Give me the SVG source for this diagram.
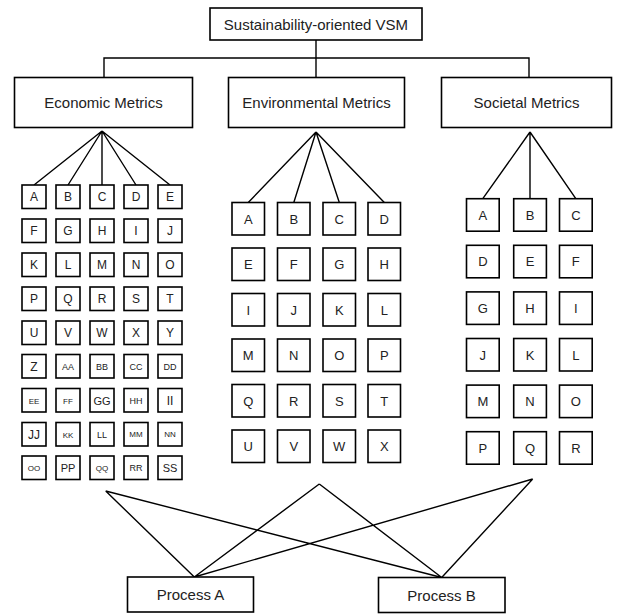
<svg xmlns="http://www.w3.org/2000/svg" width="621" height="616" viewBox="0 0 621 616">
<style>
.bx{fill:#fff;stroke:#000;stroke-width:1.6}
.ln{fill:none;stroke:#000;stroke-width:1.4}
text{font-family:"Liberation Sans",Arial,sans-serif;fill:#222;text-anchor:middle}
.t15{font-size:15px}
.e{font-size:12px}
.e9{font-size:9px}
.e8{font-size:8px}
.e11{font-size:11px}
.g{font-size:13px}
</style>
<rect width="621" height="616" fill="#fff"/>
<g id="connectors">
<path class="ln" d="M316,40V58M104,78V58H529V78M316,58V78"/>
<path class="ln" d="M102,131L34,185M102,131L68,185M102,131L102,185M102,131L136,185M102,131L170,185"/>
<path class="ln" d="M316,132L248.3,202.5M316,132L293.8,202.5M316,132L339.3,202.5M316,132L384.3,202.5"/>
<path class="ln" d="M530,132L482.8,198.7M530,132L530,198.7M530,132L575.8,198.7"/>
<path class="ln" d="M105.7,491L194.3,577M105.7,491L441.7,577.5M319.3,484L194.3,577M319.3,484L441.7,577.5M532.7,479L194.3,577M532.7,479L441.7,577.5"/>
</g>
<g id="root"><rect class="bx" x="210" y="8" width="212" height="32"/><text class="t15" x="316" y="29.5">Sustainability-oriented VSM</text></g>
<g id="economic"><rect class="bx" x="14.5" y="77.5" width="178" height="50"/><text class="t15" x="103.5" y="108">Economic Metrics</text></g>
<g id="environmental"><rect class="bx" x="228.5" y="77.5" width="176" height="50"/><text class="t15" x="316.5" y="108">Environmental Metrics</text></g>
<g id="societal"><rect class="bx" x="441.5" y="77.5" width="170" height="50"/><text class="t15" x="526.5" y="108">Societal Metrics</text></g>
<g id="processA"><rect class="bx" x="127.5" y="577" width="126" height="35"/><text class="t15" x="190.5" y="600">Process A</text></g>
<g id="processB"><rect class="bx" x="378.5" y="577.5" width="126.5" height="35"/><text class="t15" x="441.5" y="600.5">Process B</text></g>
<g id="econ-grid">
<g id="e-A" transform="translate(22,185)"><rect class="bx" width="24" height="23.5"/><text class="e" x="12" y="16">A</text></g>
<g id="e-B" transform="translate(56,185)"><rect class="bx" width="24" height="23.5"/><text class="e" x="12" y="16">B</text></g>
<g id="e-C" transform="translate(90,185)"><rect class="bx" width="24" height="23.5"/><text class="e" x="12" y="16">C</text></g>
<g id="e-D" transform="translate(124,185)"><rect class="bx" width="24" height="23.5"/><text class="e" x="12" y="16">D</text></g>
<g id="e-E" transform="translate(158,185)"><rect class="bx" width="24" height="23.5"/><text class="e" x="12" y="16">E</text></g>
<g id="e-F" transform="translate(22,219)"><rect class="bx" width="24" height="23.5"/><text class="e" x="12" y="16">F</text></g>
<g id="e-G" transform="translate(56,219)"><rect class="bx" width="24" height="23.5"/><text class="e" x="12" y="16">G</text></g>
<g id="e-H" transform="translate(90,219)"><rect class="bx" width="24" height="23.5"/><text class="e" x="12" y="16">H</text></g>
<g id="e-I" transform="translate(124,219)"><rect class="bx" width="24" height="23.5"/><text class="e" x="12" y="16">I</text></g>
<g id="e-J" transform="translate(158,219)"><rect class="bx" width="24" height="23.5"/><text class="e" x="12" y="16">J</text></g>
<g id="e-K" transform="translate(22,253)"><rect class="bx" width="24" height="23.5"/><text class="e" x="12" y="16">K</text></g>
<g id="e-L" transform="translate(56,253)"><rect class="bx" width="24" height="23.5"/><text class="e" x="12" y="16">L</text></g>
<g id="e-M" transform="translate(90,253)"><rect class="bx" width="24" height="23.5"/><text class="e" x="12" y="16">M</text></g>
<g id="e-N" transform="translate(124,253)"><rect class="bx" width="24" height="23.5"/><text class="e" x="12" y="16">N</text></g>
<g id="e-O" transform="translate(158,253)"><rect class="bx" width="24" height="23.5"/><text class="e" x="12" y="16">O</text></g>
<g id="e-P" transform="translate(22,287)"><rect class="bx" width="24" height="23.5"/><text class="e" x="12" y="16">P</text></g>
<g id="e-Q" transform="translate(56,287)"><rect class="bx" width="24" height="23.5"/><text class="e" x="12" y="16">Q</text></g>
<g id="e-R" transform="translate(90,287)"><rect class="bx" width="24" height="23.5"/><text class="e" x="12" y="16">R</text></g>
<g id="e-S" transform="translate(124,287)"><rect class="bx" width="24" height="23.5"/><text class="e" x="12" y="16">S</text></g>
<g id="e-T" transform="translate(158,287)"><rect class="bx" width="24" height="23.5"/><text class="e" x="12" y="16">T</text></g>
<g id="e-U" transform="translate(22,321)"><rect class="bx" width="24" height="23.5"/><text class="e" x="12" y="16">U</text></g>
<g id="e-V" transform="translate(56,321)"><rect class="bx" width="24" height="23.5"/><text class="e" x="12" y="16">V</text></g>
<g id="e-W" transform="translate(90,321)"><rect class="bx" width="24" height="23.5"/><text class="e" x="12" y="16">W</text></g>
<g id="e-X" transform="translate(124,321)"><rect class="bx" width="24" height="23.5"/><text class="e" x="12" y="16">X</text></g>
<g id="e-Y" transform="translate(158,321)"><rect class="bx" width="24" height="23.5"/><text class="e" x="12" y="16">Y</text></g>
<g id="e-Z" transform="translate(22,354.5)"><rect class="bx" width="24" height="23.5"/><text class="e" x="12" y="16">Z</text></g>
<g id="e-AA" transform="translate(56,354.5)"><rect class="bx" width="24" height="23.5"/><text class="e9" x="12" y="15">AA</text></g>
<g id="e-BB" transform="translate(90,354.5)"><rect class="bx" width="24" height="23.5"/><text class="e9" x="12" y="15">BB</text></g>
<g id="e-CC" transform="translate(124,354.5)"><rect class="bx" width="24" height="23.5"/><text class="e9" x="12" y="15">CC</text></g>
<g id="e-DD" transform="translate(158,354.5)"><rect class="bx" width="24" height="23.5"/><text class="e9" x="12" y="15">DD</text></g>
<g id="e-EE" transform="translate(22,388.5)"><rect class="bx" width="24" height="23.5"/><text class="e8" x="12" y="15">EE</text></g>
<g id="e-FF" transform="translate(56,388.5)"><rect class="bx" width="24" height="23.5"/><text class="e8" x="12" y="15">FF</text></g>
<g id="e-GG" transform="translate(90,388.5)"><rect class="bx" width="24" height="23.5"/><text class="e11" x="12" y="16">GG</text></g>
<g id="e-HH" transform="translate(124,388.5)"><rect class="bx" width="24" height="23.5"/><text class="e9" x="12" y="15">HH</text></g>
<g id="e-II" transform="translate(158,388.5)"><rect class="bx" width="24" height="23.5"/><text class="e" x="12" y="16">II</text></g>
<g id="e-JJ" transform="translate(22,422.5)"><rect class="bx" width="24" height="23.5"/><text class="e" x="12" y="16">JJ</text></g>
<g id="e-KK" transform="translate(56,422.5)"><rect class="bx" width="24" height="23.5"/><text class="e8" x="12" y="15">KK</text></g>
<g id="e-LL" transform="translate(90,422.5)"><rect class="bx" width="24" height="23.5"/><text class="e9" x="12" y="15.5">LL</text></g>
<g id="e-MM" transform="translate(124,422.5)"><rect class="bx" width="24" height="23.5"/><text class="e8" x="12" y="14.5">MM</text></g>
<g id="e-NN" transform="translate(158,422.5)"><rect class="bx" width="24" height="23.5"/><text class="e8" x="12" y="14.5">NN</text></g>
<g id="e-OO" transform="translate(22,456)"><rect class="bx" width="24" height="23.5"/><text class="e8" x="12" y="14.5">OO</text></g>
<g id="e-PP" transform="translate(56,456)"><rect class="bx" width="24" height="23.5"/><text class="e11" x="12" y="15.5">PP</text></g>
<g id="e-QQ" transform="translate(90,456)"><rect class="bx" width="24" height="23.5"/><text class="e8" x="12" y="14.5">QQ</text></g>
<g id="e-RR" transform="translate(124,456)"><rect class="bx" width="24" height="23.5"/><text class="e9" x="12" y="15">RR</text></g>
<g id="e-SS" transform="translate(158,456)"><rect class="bx" width="24" height="23.5"/><text class="e11" x="12" y="15.5">SS</text></g>
</g>
<g id="env-grid">
<g id="v-A" transform="translate(232,202.5)"><rect class="bx" width="32.5" height="32.5"/><text class="g" x="16.25" y="21">A</text></g>
<g id="v-B" transform="translate(277.5,202.5)"><rect class="bx" width="32.5" height="32.5"/><text class="g" x="16.25" y="21">B</text></g>
<g id="v-C" transform="translate(323,202.5)"><rect class="bx" width="32.5" height="32.5"/><text class="g" x="16.25" y="21">C</text></g>
<g id="v-D" transform="translate(368,202.5)"><rect class="bx" width="32.5" height="32.5"/><text class="g" x="16.25" y="21">D</text></g>
<g id="v-E" transform="translate(232,248)"><rect class="bx" width="32.5" height="32.5"/><text class="g" x="16.25" y="21">E</text></g>
<g id="v-F" transform="translate(277.5,248)"><rect class="bx" width="32.5" height="32.5"/><text class="g" x="16.25" y="21">F</text></g>
<g id="v-G" transform="translate(323,248)"><rect class="bx" width="32.5" height="32.5"/><text class="g" x="16.25" y="21">G</text></g>
<g id="v-H" transform="translate(368,248)"><rect class="bx" width="32.5" height="32.5"/><text class="g" x="16.25" y="21">H</text></g>
<g id="v-I" transform="translate(232,293.5)"><rect class="bx" width="32.5" height="32.5"/><text class="g" x="16.25" y="21">I</text></g>
<g id="v-J" transform="translate(277.5,293.5)"><rect class="bx" width="32.5" height="32.5"/><text class="g" x="16.25" y="21">J</text></g>
<g id="v-K" transform="translate(323,293.5)"><rect class="bx" width="32.5" height="32.5"/><text class="g" x="16.25" y="21">K</text></g>
<g id="v-L" transform="translate(368,293.5)"><rect class="bx" width="32.5" height="32.5"/><text class="g" x="16.25" y="21">L</text></g>
<g id="v-M" transform="translate(232,339)"><rect class="bx" width="32.5" height="32.5"/><text class="g" x="16.25" y="21">M</text></g>
<g id="v-N" transform="translate(277.5,339)"><rect class="bx" width="32.5" height="32.5"/><text class="g" x="16.25" y="21">N</text></g>
<g id="v-O" transform="translate(323,339)"><rect class="bx" width="32.5" height="32.5"/><text class="g" x="16.25" y="21">O</text></g>
<g id="v-P" transform="translate(368,339)"><rect class="bx" width="32.5" height="32.5"/><text class="g" x="16.25" y="21">P</text></g>
<g id="v-Q" transform="translate(232,384.5)"><rect class="bx" width="32.5" height="32.5"/><text class="g" x="16.25" y="21">Q</text></g>
<g id="v-R" transform="translate(277.5,384.5)"><rect class="bx" width="32.5" height="32.5"/><text class="g" x="16.25" y="21">R</text></g>
<g id="v-S" transform="translate(323,384.5)"><rect class="bx" width="32.5" height="32.5"/><text class="g" x="16.25" y="21">S</text></g>
<g id="v-T" transform="translate(368,384.5)"><rect class="bx" width="32.5" height="32.5"/><text class="g" x="16.25" y="21">T</text></g>
<g id="v-U" transform="translate(232,430)"><rect class="bx" width="32.5" height="32.5"/><text class="g" x="16.25" y="21">U</text></g>
<g id="v-V" transform="translate(277.5,430)"><rect class="bx" width="32.5" height="32.5"/><text class="g" x="16.25" y="21">V</text></g>
<g id="v-W" transform="translate(323,430)"><rect class="bx" width="32.5" height="32.5"/><text class="g" x="16.25" y="21">W</text></g>
<g id="v-X" transform="translate(368,430)"><rect class="bx" width="32.5" height="32.5"/><text class="g" x="16.25" y="21">X</text></g>
</g>
<g id="soc-grid">
<g id="s-A" transform="translate(466.5,198.7)"><rect class="bx" width="32.7" height="32.5"/><text class="g" x="16.35" y="21">A</text></g>
<g id="s-B" transform="translate(513.7,198.7)"><rect class="bx" width="32.7" height="32.5"/><text class="g" x="16.35" y="21">B</text></g>
<g id="s-C" transform="translate(559.5,198.7)"><rect class="bx" width="32.7" height="32.5"/><text class="g" x="16.35" y="21">C</text></g>
<g id="s-D" transform="translate(466.5,245.3)"><rect class="bx" width="32.7" height="32.5"/><text class="g" x="16.35" y="21">D</text></g>
<g id="s-E" transform="translate(513.7,245.3)"><rect class="bx" width="32.7" height="32.5"/><text class="g" x="16.35" y="21">E</text></g>
<g id="s-F" transform="translate(559.5,245.3)"><rect class="bx" width="32.7" height="32.5"/><text class="g" x="16.35" y="21">F</text></g>
<g id="s-G" transform="translate(466.5,291.9)"><rect class="bx" width="32.7" height="32.5"/><text class="g" x="16.35" y="21">G</text></g>
<g id="s-H" transform="translate(513.7,291.9)"><rect class="bx" width="32.7" height="32.5"/><text class="g" x="16.35" y="21">H</text></g>
<g id="s-I" transform="translate(559.5,291.9)"><rect class="bx" width="32.7" height="32.5"/><text class="g" x="16.35" y="21">I</text></g>
<g id="s-J" transform="translate(466.5,338.5)"><rect class="bx" width="32.7" height="32.5"/><text class="g" x="16.35" y="21">J</text></g>
<g id="s-K" transform="translate(513.7,338.5)"><rect class="bx" width="32.7" height="32.5"/><text class="g" x="16.35" y="21">K</text></g>
<g id="s-L" transform="translate(559.5,338.5)"><rect class="bx" width="32.7" height="32.5"/><text class="g" x="16.35" y="21">L</text></g>
<g id="s-M" transform="translate(466.5,385.1)"><rect class="bx" width="32.7" height="32.5"/><text class="g" x="16.35" y="21">M</text></g>
<g id="s-N" transform="translate(513.7,385.1)"><rect class="bx" width="32.7" height="32.5"/><text class="g" x="16.35" y="21">N</text></g>
<g id="s-O" transform="translate(559.5,385.1)"><rect class="bx" width="32.7" height="32.5"/><text class="g" x="16.35" y="21">O</text></g>
<g id="s-P" transform="translate(466.5,431.7)"><rect class="bx" width="32.7" height="32.5"/><text class="g" x="16.35" y="21">P</text></g>
<g id="s-Q" transform="translate(513.7,431.7)"><rect class="bx" width="32.7" height="32.5"/><text class="g" x="16.35" y="21">Q</text></g>
<g id="s-R" transform="translate(559.5,431.7)"><rect class="bx" width="32.7" height="32.5"/><text class="g" x="16.35" y="21">R</text></g>
</g>
</svg>
